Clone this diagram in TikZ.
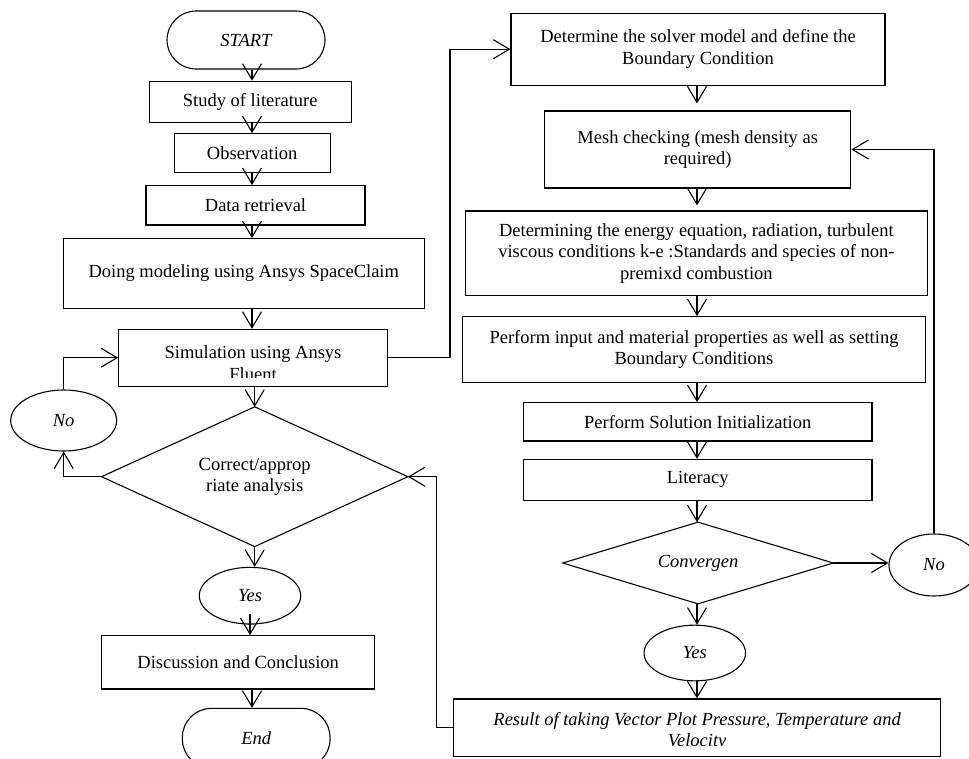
\documentclass[tikz,border=0pt]{standalone}
\usepackage{fontspec}
\setmainfont{Liberation Serif}
\usetikzlibrary{arrows.meta,shapes.geometric}
\newcommand{\mytxt}{\fontsize{18.5}{21.5}\selectfont}
\begin{document}
\begin{tikzpicture}[x=1pt,y=-1pt, line width=1.1pt,
 box/.style={draw, rectangle, inner sep=0pt, align=center, font=\mytxt},
 term/.style={box, rounded corners=29pt, font=\mytxt\itshape},
 oval/.style={draw, ellipse, inner sep=0pt, font=\mytxt\itshape},
 dtext/.style={rectangle, inner sep=0pt, align=center, font=\mytxt},
 arr/.style={-{Straight Barb[length=16pt,width=19pt]}}]
\useasboundingbox (0,0) rectangle (969,758);
\clip (0,0) rectangle (969,758);
% left column
\node[term, minimum width=158pt, minimum height=58pt] (start) at (246,40) {START};
\node[box, minimum width=201.7pt, minimum height=41.4pt] (study) at (250.2,102) {Study of literature};
\node[box, minimum width=155.7pt, minimum height=39pt] (obs) at (252.2,153.2) {Observation};
\node[box, minimum width=219pt, minimum height=39.3pt] (data) at (255.5,205.3) {Data retrieval};
\node[box, minimum width=361pt, minimum height=69.6pt] (doing) at (243.8,273.5) {Doing modeling using Ansys SpaceClaim};
\node[box, minimum width=268.6pt, minimum height=56.7pt] (sim) at (253,357.7) {};
\begin{scope}
\clip (sim.north west) rectangle ([yshift=9pt]sim.south east);
\node[dtext] (simtext) at (253,363) {Simulation using Ansys\\Fluent};
\end{scope}
\node[dtext, minimum width=305.3pt, minimum height=138.7pt] (dia1) at (254.7,476.7) {Correct/approp\\riate analysis};
\draw (dia1.north) -- (dia1.east) -- (dia1.south) -- (dia1.west) -- cycle;
\node[oval, minimum width=106pt, minimum height=61pt] (no1) at (63.7,420.5) {No};
\node[oval, minimum width=101.4pt, minimum height=56.7pt] (yes1) at (250,595.7) {Yes};
\node[box, minimum width=273pt, minimum height=53.3pt] (disc) at (238.2,662.3) {Discussion and Conclusion};
\node[term, minimum width=147.7pt, minimum height=59.7pt] (endnode) at (256.2,738.2) {End};
% right column
\node[box, minimum width=374pt, minimum height=71.7pt] (b1) at (698,49.2) {Determine the solver model and define the\\Boundary Condition};
\node[box, minimum width=306.3pt, minimum height=77pt] (b2) at (697.7,149.5) {Mesh checking (mesh density as\\required)};
\node[box, minimum width=462.1pt, minimum height=84.7pt] (b3) at (696.4,253.3) {Determining the energy equation, radiation, turbulent\\viscous conditions k-e :Standards and species of non-\\premixd combustion};
\node[box, minimum width=462.4pt, minimum height=65.6pt] (b4) at (694,349.5) {Perform input and material properties as well as setting\\Boundary Conditions};
\node[box, minimum width=348.5pt, minimum height=38.3pt] (b5) at (697.7,421.8) {Perform Solution Initialization};
\node[box, minimum width=348.5pt, minimum height=40.7pt] (b6) at (697.7,479.7) {Literacy};
\node[dtext, font=\mytxt\itshape, minimum width=269.4pt, minimum height=80.6pt] (dia2) at (698,563) {Convergen};
\draw (dia2.north) -- (dia2.east) -- (dia2.south) -- (dia2.west) -- cycle;
\node[oval, minimum width=90pt, minimum height=62pt] (no2) at (934,565) {No};
\node[oval, minimum width=101.5pt, minimum height=55.7pt] (yes2) at (694.8,653) {Yes};
\node[box, minimum width=487.4pt, minimum height=57.7pt] (res) at (697.1,727.8) {};
\begin{scope}
\clip (res.north west) rectangle ([yshift=11.7pt]res.south east);
\node[dtext, font=\mytxt\itshape] (restext) at (697.1,731.5) {Result of taking Vector Plot Pressure, Temperature and\\Velocity};
\end{scope}
% helper coordinates
\coordinate (lc) at (252,0);
\coordinate (rc) at (697,0);
\coordinate (j1) at (450,200);
\coordinate (j2) at (436.5,600);
\coordinate (ys) at ([yshift=11pt]yes1.south);
% connectors left
\draw[arr] (start.south -| lc) -- (study.north -| lc);
\draw[arr] (study.south -| lc) -- (obs.north -| lc);
\draw[arr] (obs.south -| lc) -- (data.north -| lc);
\draw[arr] (data.south -| lc) -- (doing.north -| lc);
\draw[arr] (doing.south -| lc) -- (sim.north -| lc);
\draw[arr] (sim.south -| dia1.north) -- (dia1.north);
\draw[arr] (dia1.south) -- (yes1.north -| dia1.south);
\draw[arr] (ys) -- (disc.north -| ys);
\draw[arr] (disc.south -| lc) -- (endnode.north -| lc);
\draw[arr] (dia1.west) -| (no1.south);
\draw[arr] (no1.north) |- (sim.west);
\draw[arr] (sim.east) -- (sim.east -| j1) |- (b1.west);
% connectors right
\draw[arr, shorten >=7pt] (b1.south -| rc) -- (b2.north -| rc);
\draw[arr, shorten >=5pt] (b2.south -| rc) -- (b3.north -| rc);
\draw[arr] (b3.south -| rc) -- (b4.north -| rc);
\draw[arr] (b4.south -| rc) -- (b5.north -| rc);
\draw[arr] (b5.south -| rc) -- (b6.north -| rc);
\draw[arr] (b6.south -| rc) -- (dia2.north -| rc);
\draw[arr] (dia2.south -| rc) -- (yes2.north -| rc);
\draw[arr] (yes2.south -| rc) -- (res.north -| rc);
\draw[arr] (dia2.east) -- (dia2.east -| no2.west);
\draw[arr] (no2.north) |- (b2.east);
\draw[arr] (res.west) -- (res.west -| j2) |- (dia1.east);
\end{tikzpicture}
\end{document}
